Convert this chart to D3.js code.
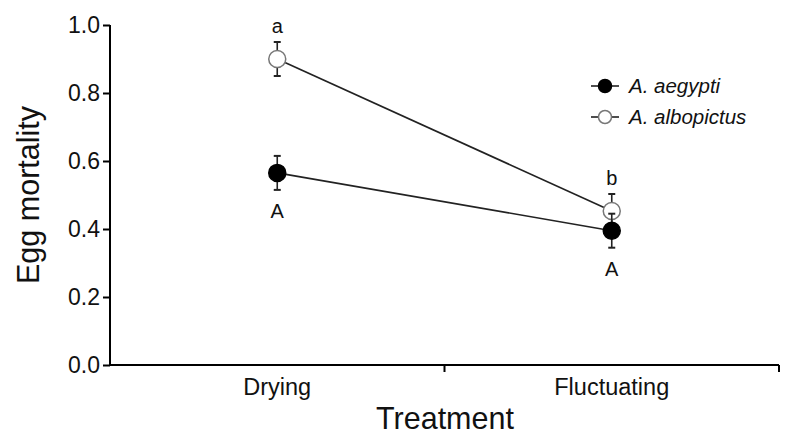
<!DOCTYPE html>
<html><head><meta charset="utf-8">
<script src="https://cdn.jsdelivr.net/npm/d3@7"></script>
<style>body{margin:0;background:#fff}text{font-family:"Liberation Sans",Arial,sans-serif}</style>
</head><body>
<svg id="c" width="794" height="443"></svg>
<script>
const categories = ["Drying", "Fluctuating"];
const seriesNames = ["A. aegypti", "A. albopictus"];
const aegypti = [0.565, 0.395];
const aegyptiErr = [0.05, 0.05];
const albopictus = [0.90, 0.453];
const albopictusErr = [0.05, 0.05];
const aegyptiLetters = ["A", "A"];
const albopictusLetters = ["a", "b"];
const yTicks = [0, 0.2, 0.4, 0.6, 0.8, 1.0];

const svg = d3.select("#c");
const L = 110, R = 779, T = 25, B = 365;
const x = d3.scaleBand().domain(categories).range([L, R]).padding(0);
const y = d3.scaleLinear().domain([0, 1]).range([B, T]);
const cx = c => x(c) + x.bandwidth() / 2;

// y axis
const ya = svg.append("g").attr("transform", `translate(${L},0)`)
  .call(d3.axisLeft(y).tickValues(yTicks).tickFormat(d3.format(".1f")).tickSize(7).tickPadding(3));
ya.select(".domain").attr("stroke-width", 2).attr("d", `M0,${T}V${B}`);
ya.selectAll(".tick line").attr("stroke-width", 2);
ya.selectAll("text").attr("font-size", 23).attr("fill", "#111");

// x axis
const xa = svg.append("g").attr("transform", `translate(0,${B})`);
xa.append("line").attr("x1", L).attr("x2", R).attr("stroke", "#000").attr("stroke-width", 2);
categories.forEach((c, i) => {
  const bx = x(c) + x.bandwidth();
  xa.append("line").attr("x1", bx).attr("x2", bx).attr("y1", 0).attr("y2", 7).attr("stroke", "#000").attr("stroke-width", 2);
  xa.append("text").attr("x", cx(c)).attr("y", 30).attr("text-anchor", "middle").attr("font-size", 23.5).attr("fill", "#111").text(c);
});

// titles
svg.append("text").attr("x", 445).attr("y", 429).attr("text-anchor", "middle").attr("font-size", 30.5).attr("fill", "#111").text("Treatment");
svg.append("text").attr("transform", `translate(39,${(T+B)/2}) rotate(-90)`).attr("text-anchor", "middle").attr("font-size", 30.5).attr("fill", "#111").text("Egg mortality");

function drawSeries(vals, errs, filled, letters, above) {
  const line = d3.line().x((d, i) => cx(categories[i])).y(d => y(d));
  svg.append("path").attr("d", line(vals)).attr("fill", "none").attr("stroke", "#222").attr("stroke-width", 1.6);
  vals.forEach((v, i) => {
    const px = cx(categories[i]);
    const g = svg.append("g").attr("stroke", "#222").attr("stroke-width", 1.6);
    g.append("line").attr("x1", px).attr("x2", px).attr("y1", y(v - errs[i])).attr("y2", y(v + errs[i]));
    [v - errs[i], v + errs[i]].forEach(e => g.append("line").attr("x1", px - 3.5).attr("x2", px + 3.5).attr("y1", y(e)).attr("y2", y(e)).attr("stroke-width", 2));
  });
  vals.forEach((v, i) => {
    const px = cx(categories[i]);
    svg.append("circle").attr("cx", px).attr("cy", y(v)).attr("r", 8.5)
      .attr("fill", filled ? "#000" : "#fff").attr("stroke", filled ? "#000" : "#777").attr("stroke-width", 1.5);
    const ly = above ? y(v + errs[i]) - 9 : y(v - errs[i]) + 28;
    svg.append("text").attr("x", px).attr("y", ly).attr("text-anchor", "middle").attr("font-size", 20).attr("fill", "#111").text(letters[i]);
  });
}
drawSeries(albopictus, albopictusErr, false, albopictusLetters, true);
drawSeries(aegypti, aegyptiErr, true, aegyptiLetters, false);

// legend
seriesNames.forEach((n, i) => {
  const ly = 86 + i * 31;
  svg.append("line").attr("x1", 591).attr("x2", 619).attr("y1", ly).attr("y2", ly).attr("stroke", "#222").attr("stroke-width", 1.6);
  svg.append("circle").attr("cx", 605).attr("cy", ly).attr("r", 6.5).attr("fill", i === 0 ? "#000" : "#fff").attr("stroke", i === 0 ? "#000" : "#777").attr("stroke-width", 1.5);
  svg.append("text").attr("x", 629).attr("y", ly + 7).attr("font-size", 20.5).attr("font-style", "italic").attr("fill", "#111").text(n);
});
</script>
</body></html>
